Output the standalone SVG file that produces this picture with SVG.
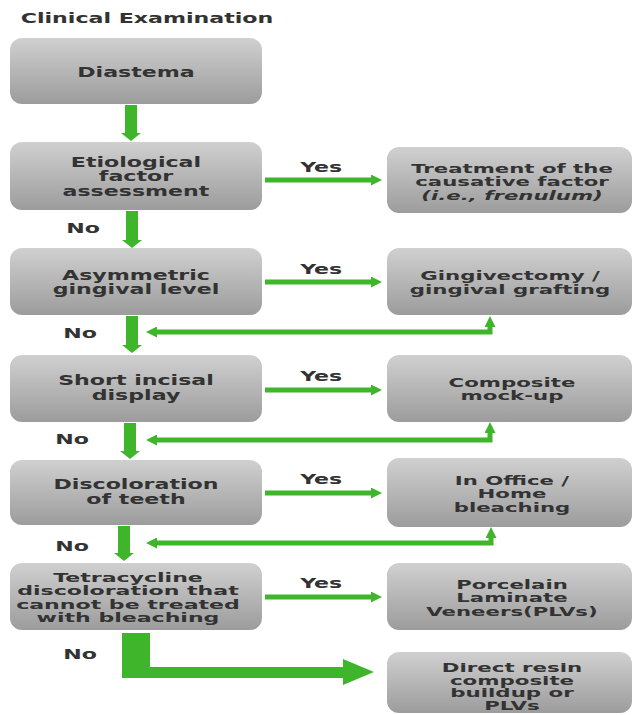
<svg xmlns="http://www.w3.org/2000/svg" width="633" height="715" viewBox="0 0 633 715">
<style>
.box{fill:url(#g);}
text{font-family:"DejaVu Sans","Liberation Sans",sans-serif;font-weight:bold;fill:#333;text-anchor:middle;transform-box:fill-box;transform-origin:center;transform:scaleX(1.58);}
.l{font-size:14px;}
.lab{font-size:14px;}
.t12{font-size:12px;transform:scaleX(1.84);}
.r13{font-size:13px;transform:scaleX(1.64);}
.r125{font-size:12.5px;transform:scaleX(1.7);}
.r12{font-size:12px;transform:scaleX(1.78);}
.thin{fill:none;stroke:#3fb52c;stroke-width:5;}
.thick{fill:#3fb52c;}
</style>
<defs>
<linearGradient id="g" x1="0" y1="0" x2="0" y2="1">
<stop offset="0" stop-color="#d0d0d0"/>
<stop offset="0.5" stop-color="#b6b6b6"/>
<stop offset="1" stop-color="#9c9c9c"/>
</linearGradient>
<marker id="ah" markerUnits="userSpaceOnUse" markerWidth="11" markerHeight="11" refX="0" refY="5" orient="auto-start-reverse" viewBox="0 0 10 10">
<path d="M0,0 L10,5 L0,10 Z" fill="#3fb52c"/>
</marker>
</defs>
<rect width="633" height="715" fill="#ffffff"/>
<text class="l" x="147" y="23">Clinical Examination</text>

<g id="connectors">
<path class="thick" d="M125,105 H137 V133 H141 L131,141 L121,133 H125 Z"/>
<path class="thick" d="M126,211 H138 V240 H142 L132,248 L122,240 H126 Z"/>
<path class="thick" d="M126,316 H138 V345 H142 L132,353 L122,345 H126 Z"/>
<path class="thick" d="M124,423 H136 V451 H140 L130,459 L120,451 H124 Z"/>
<path class="thick" d="M118,526 H130 V553 H134 L124,561 L114,553 H118 Z"/>
<path class="thick" d="M122,633 H150 V667 H343 V659 L374,672 L343,685 V678 H122 Z"/>
<path class="thin" d="M265,180 H371" marker-end="url(#ah)"/>
<path class="thin" d="M265,282 H371" marker-end="url(#ah)"/>
<path class="thin" d="M265,390 H371" marker-end="url(#ah)"/>
<path class="thin" d="M265,493 H371" marker-end="url(#ah)"/>
<path class="thin" d="M265,597 H371" marker-end="url(#ah)"/>
<path class="thin" d="M490,327 V332 H157" marker-start="url(#ah)" marker-end="url(#ah)"/>
<path class="thin" d="M490,433 V440 H157" marker-start="url(#ah)" marker-end="url(#ah)"/>
<path class="thin" d="M491,538 V543 H157" marker-start="url(#ah)" marker-end="url(#ah)"/>
<text class="lab" x="321" y="172">Yes</text>
<text class="lab" x="321" y="274">Yes</text>
<text class="lab" x="321" y="381">Yes</text>
<text class="lab" x="321" y="484">Yes</text>
<text class="lab" x="321" y="588">Yes</text>
<text class="lab" x="83" y="233">No</text>
<text class="lab" x="80" y="338">No</text>
<text class="lab" x="72" y="444">No</text>
<text class="lab" x="72" y="551">No</text>
<text class="lab" x="80" y="659">No</text>
</g>

<g id="n_diastema"><rect class="box" x="10" y="38" width="252" height="66" rx="12"/>
<text class="l" x="136" y="77">Diastema</text></g>
<g id="n_etio"><rect class="box" x="10" y="142" width="252" height="68" rx="12"/>
<text class="l" x="136" y="167"><tspan x="136">Etiological</tspan><tspan x="136" dy="14.5">factor</tspan><tspan x="136" dy="14.5">assessment</tspan></text></g>
<g id="n_asym"><rect class="box" x="10" y="248" width="252" height="67" rx="12"/>
<text class="l" x="136" y="280"><tspan x="136">Asymmetric</tspan><tspan x="136" dy="14.5">gingival level</tspan></text></g>
<g id="n_short"><rect class="box" x="10" y="355" width="252" height="67" rx="12"/>
<text class="l" x="136" y="385.5"><tspan x="136">Short incisal</tspan><tspan x="136" dy="14.5">display</tspan></text></g>
<g id="n_discol"><rect class="box" x="10" y="460" width="252" height="65" rx="12"/>
<text class="l" x="136" y="489.5"><tspan x="136">Discoloration</tspan><tspan x="136" dy="14.5">of teeth</tspan></text></g>
<g id="n_tetra"><rect class="box" x="10" y="563" width="252" height="67" rx="12"/>
<text class="t12" x="128" y="582"><tspan x="128">Tetracycline</tspan><tspan x="128" dy="13.3">discoloration that</tspan><tspan x="128" dy="13.3">cannot be treated</tspan><tspan x="128" dy="13.3">with bleaching</tspan></text></g>

<g id="n_treat"><rect class="box" x="387" y="147" width="245" height="66" rx="12"/>
<text class="r125" x="512" y="173"><tspan x="512">Treatment of the</tspan><tspan x="512" dy="13.5">causative factor</tspan><tspan x="512" dy="13.5" font-style="italic">(i.e., frenulum)</tspan></text></g>
<g id="n_gingi"><rect class="box" x="387" y="248" width="245" height="67" rx="12"/>
<text class="r13" x="510" y="280"><tspan x="510">Gingivectomy /</tspan><tspan x="510" dy="14.5">gingival grafting</tspan></text></g>
<g id="n_comp"><rect class="box" x="387" y="355" width="245" height="67" rx="12"/>
<text class="r13" x="512" y="387"><tspan x="512">Composite</tspan><tspan x="512" dy="13.5">mock-up</tspan></text></g>
<g id="n_bleach"><rect class="box" x="387" y="458" width="245" height="69" rx="12"/>
<text class="r125" x="512" y="485"><tspan x="512">In Office /</tspan><tspan x="512" dy="13.5">Home</tspan><tspan x="512" dy="13.5">bleaching</tspan></text></g>
<g id="n_plv"><rect class="box" x="387" y="563" width="245" height="67" rx="12"/>
<text class="r125" x="512" y="589"><tspan x="512">Porcelain</tspan><tspan x="512" dy="13.3">Laminate</tspan><tspan x="512" dy="13.3">Veneers(PLVs)</tspan></text></g>
<g id="n_direct"><rect class="box" x="387" y="652" width="245" height="61" rx="12"/>
<text class="r12" x="512" y="672"><tspan x="512">Direct resin</tspan><tspan x="512" dy="12.7">composite</tspan><tspan x="512" dy="12.7">buildup or</tspan><tspan x="512" dy="12.7">PLVs</tspan></text></g>
</svg>
